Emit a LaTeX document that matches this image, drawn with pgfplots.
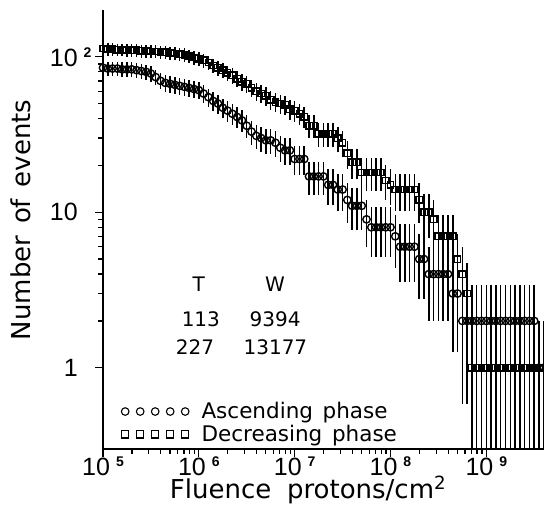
\documentclass[border=0pt]{standalone}
\usepackage{pgfplots}
\pgfplotsset{compat=1.18}
\usepackage{pgfplotstable}
\usepackage{fontspec}
\setmainfont{DejaVu Sans}
\newfontfamily\tickfont{Liberation Sans}
\newcommand{\tl}[1]{10\hspace{6pt}\raisebox{9pt}{\fontsize{14}{14}\selectfont\bfseries #1}}
\newcommand{\tlp}[1]{#1\phantom{\hspace{6pt}\fontsize{14}{14}\selectfont\bfseries 2}}

\pgfplotstableread{
x asc dec
1.000e5 85 113
1.122e5 84 112
1.259e5 84 112
1.413e5 84 111
1.585e5 83 111
1.778e5 83 110
1.995e5 83 110
2.239e5 82 110
2.512e5 81 109
2.818e5 80 109
3.162e5 78 108
3.548e5 74 108
3.981e5 70 107
4.467e5 68 107
5.012e5 67 106
5.623e5 66 105
6.310e5 65 104
7.079e5 64 103
7.943e5 63 101
8.913e5 62 99
1.000e6 61 97
1.122e6 58 95
1.259e6 55 92
1.413e6 52 88
1.585e6 50 85
1.778e6 47 82
1.995e6 45 79
2.239e6 43 76
2.512e6 41 72
2.818e6 39 69
3.162e6 36 67
3.548e6 33 63
3.981e6 31 60
4.467e6 30 58
5.012e6 29 56
5.623e6 29 53
6.310e6 28 51
7.079e6 26 50
7.943e6 25 49
8.913e6 25 46
1.000e7 22 45
1.122e7 22 43
1.259e7 22 41
1.413e7 17 36
1.585e7 17 36
1.778e7 17 32
1.995e7 17 32
2.239e7 15 32
2.512e7 15 32
2.818e7 14 30
3.162e7 14 28
3.548e7 12 24
3.981e7 11 21
4.467e7 11 21
5.012e7 11 18
5.623e7 9 18
6.310e7 8 18
7.079e7 8 18
7.943e7 8 18
8.913e7 8 16
1.000e8 8 15
1.122e8 7 14
1.259e8 6 14
1.413e8 6 14
1.585e8 6 14
1.778e8 6 14
1.995e8 5 12
2.239e8 5 10
2.512e8 4 10
2.818e8 4 9
3.162e8 4 7
3.548e8 4 7
3.981e8 4 7
4.467e8 3 7
5.012e8 3 5
5.623e8 2 4
6.310e8 2 3
7.079e8 2 1
7.943e8 2 1
8.913e8 2 1
1.000e9 2 1
1.122e9 2 1
1.259e9 2 1
1.413e9 2 1
1.585e9 2 1
1.778e9 2 1
1.995e9 2 1
2.239e9 2 1
2.512e9 2 1
2.818e9 2 1
3.162e9 2 1
3.548e9 1 1
3.981e9 1 1
}\data

\begin{document}
\begin{tikzpicture}
\useasboundingbox (-103pt,-59pt) rectangle (441pt,449pt);
\begin{axis}[
  scale only axis, width=441pt, height=439pt,
  xmode=log, ymode=log,
  xmin=1e5, xmax=4e9, ymin=0.3, ymax=200,
  enlargelimits=false,
  axis lines=left, axis line style={-, line width=1.5pt},
  tick align=outside,
  major tick length=8pt, minor tick length=5pt,
  every tick/.style={black, line width=1.3pt},
  xtick={1e5,1e6,1e7,1e8,1e9},
  xticklabels={\tl{5},\tl{6},\tl{7},\tl{8},\tl{9}},
  ytick={1,10,100},
  yticklabels={\tlp{1},\tlp{10},\tl{2}},
  ticklabel style={font=\tickfont\fontsize{25}{25}\selectfont},
  xticklabel style={yshift=4pt},
  xlabel={Fluence\hspace{0.6em}protons/cm\textsuperscript{2}},
  ylabel={Number\hspace{0.45em}of\hspace{0.45em}events},
  label style={font=\fontsize{26}{26}\selectfont},
  xlabel style={at={(axis description cs:0.465,-0.094)}, anchor=center},
  ylabel style={at={(axis description cs:-0.186,0.522)}, anchor=center},
  legend style={at={(axis description cs:0.04,0.008)}, anchor=south west, draw=none, fill=none,
    font=\fontsize{21.5}{21.5}\selectfont, row sep=1pt, inner sep=0pt},
  legend cell align=left,
]
\addplot[black, only marks, mark=o, mark size=3.7pt, mark options={line width=1.4pt},
  forget plot,
  error bars/.cd, y dir=both, y explicit, error mark=none,
  error bar style={line width=1.5pt}]
  table[x=x, y=asc, y error plus expr={sqrt(\thisrow{asc})},
        y error minus expr={min(sqrt(\thisrow{asc}),0.99*\thisrow{asc})}] {\data};
\addplot[black, only marks, mark=square, mark size=3.2pt, mark options={line width=1.4pt},
  forget plot,
  error bars/.cd, y dir=both, y explicit, error mark=none,
  error bar style={line width=1.5pt}]
  table[x=x, y=dec, y error plus expr={sqrt(\thisrow{dec})},
        y error minus expr={min(sqrt(\thisrow{dec}),0.99*\thisrow{dec})}] {\data};
\addlegendimage{legend image code/.code={\foreach \i in {0,...,4}{\draw[line width=1.1pt] (\i*15pt+4pt,0pt) circle (3.8pt);}}}
\addlegendentry{\hspace{10pt}Ascending\hspace{0.45em}phase}
\addlegendimage{legend image code/.code={\foreach \i in {0,...,4}{\draw[line width=1.1pt] (\i*15pt+0.3pt,-3.6pt) rectangle ++(7.4pt,7.2pt);}}}
\addlegendentry{\hspace{10pt}Decreasing\hspace{0.45em}phase}
\node[font=\fontsize{20}{20}\selectfont] at (axis cs:1.0e6,3.45) {T};
\node[font=\fontsize{20}{20}\selectfont] at (axis cs:6.25e6,3.45) {W};
\node[font=\fontsize{20}{20}\selectfont] at (axis cs:1.05e6,2.04) {113};
\node[font=\fontsize{20}{20}\selectfont] at (axis cs:6.25e6,2.04) {9394};
\node[font=\fontsize{20}{20}\selectfont] at (axis cs:0.91e6,1.35) {227};
\node[font=\fontsize{20}{20}\selectfont] at (axis cs:6.3e6,1.35) {13177};
\end{axis}
\end{tikzpicture}
\end{document}
